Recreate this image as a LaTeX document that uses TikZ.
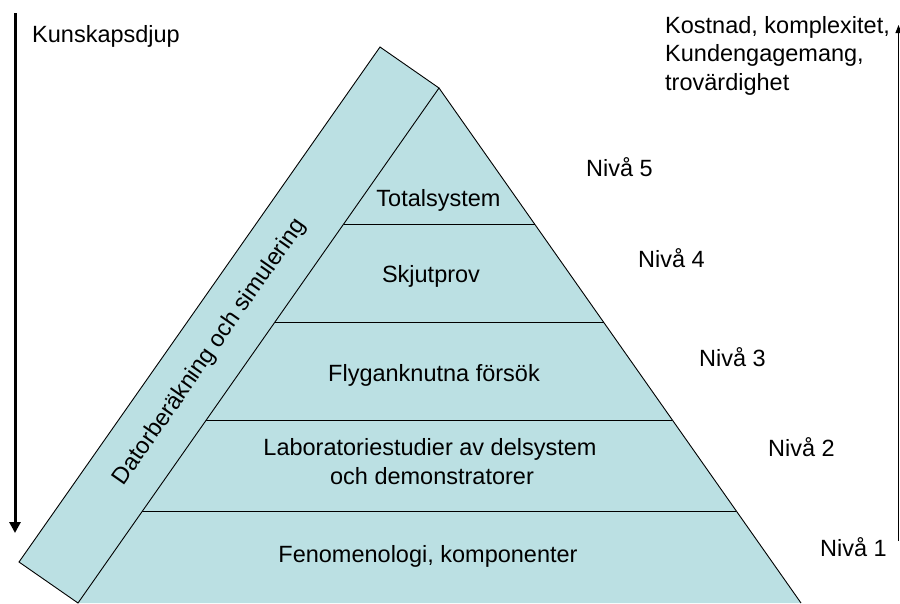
\documentclass[tikz,border=0pt]{standalone}
\usepackage{fontspec}
\setmainfont{Liberation Sans}
\usetikzlibrary{arrows.meta,calc}
\definecolor{pyr}{RGB}{187,224,227}
\begin{document}
\begin{tikzpicture}[x=1pt,y=-1pt,
  txt/.style={font=\fontsize{23.5}{28.5}\selectfont, inner sep=0pt, text=black},
  edge/.style={draw=black, line width=0.9pt, line join=miter},
  sep/.style={draw=black, line width=0.9pt}]
\useasboundingbox (0,0) rectangle (900,603);
% geometry
\coordinate (apex) at (439,88);
\coordinate (bl) at (78,603);
\coordinate (br) at (801,603);
\coordinate (b1) at (19,562);
\coordinate (b2) at (380,47);
% pyramid
\fill[pyr] (apex) -- (bl) -- (br) -- cycle;
\draw[edge] (apex) -- (br);
\coordinate (l1) at ($(apex)!0.2641!(bl)$);
\coordinate (r1) at ($(apex)!0.2641!(br)$);
\coordinate (l2) at ($(apex)!0.4544!(bl)$);
\coordinate (r2) at ($(apex)!0.4544!(br)$);
\coordinate (l3) at ($(apex)!0.6447!(bl)$);
\coordinate (r3) at ($(apex)!0.6447!(br)$);
\coordinate (l4) at ($(apex)!0.8214!(bl)$);
\coordinate (r4) at ($(apex)!0.8214!(br)$);
\draw[sep] (l1) -- (r1);
\draw[sep] (l2) -- (r2);
\draw[sep] (l3) -- (r3);
\draw[sep] (l4) -- (r4);
% side band
\filldraw[fill=pyr, edge] (apex) -- (bl) -- (b1) -- (b2) -- cycle;
\node[txt, rotate=55] (band) at (210,352) {Datorberäkning och simulering};
% level texts
\node[txt, anchor=base] (t5) at (438.5,206.7) {Totalsystem};
\node[txt, anchor=base] (t4) at (431,282.7) {Skjutprov};
\node[txt, anchor=base] (t3) at (434,381) {Flyganknutna försök};
\node[txt, anchor=base] (t2a) at (430,455.7) {Laboratoriestudier av delsystem};
\node[txt, anchor=base] (t2b) at (432,484) {och demonstratorer};
\node[txt, anchor=base] (t1) at (428,562.3) {Fenomenologi, komponenter};
% level labels
\node[txt, anchor=base west] (n5) at (586,176) {Nivå 5};
\node[txt, anchor=base west] (n4) at (638,267.7) {Nivå 4};
\node[txt, anchor=base west] (n3) at (699,366) {Nivå 3};
\node[txt, anchor=base west] (n2) at (768,456) {Nivå 2};
\node[txt, anchor=base west] (n1) at (820,556) {Nivå 1};
% left arrow
\coordinate (ka) at (15,13);
\coordinate (kb) at (15,533);
\draw[line width=3pt, -{Triangle[length=11pt,width=11pt]}] (ka) -- (kb);
\node[txt, anchor=base west] (kd) at (32,42.5) {Kunskapsdjup};
% right arrow
\coordinate (ca) at (898.5,541);
\coordinate (cb) at (898.5,25);
\draw[line width=0.9pt, -{Triangle[length=8pt,width=6pt]}] (ca) -- (cb);
\node[txt, anchor=base west] (k1) at (665,33) {Kostnad, komplexitet,};
\node[txt, anchor=base west] (k2) at (665,61.7) {Kundengagemang,};
\node[txt, anchor=base west] (k3) at (665,90.4) {trovärdighet};
\end{tikzpicture}
\end{document}
